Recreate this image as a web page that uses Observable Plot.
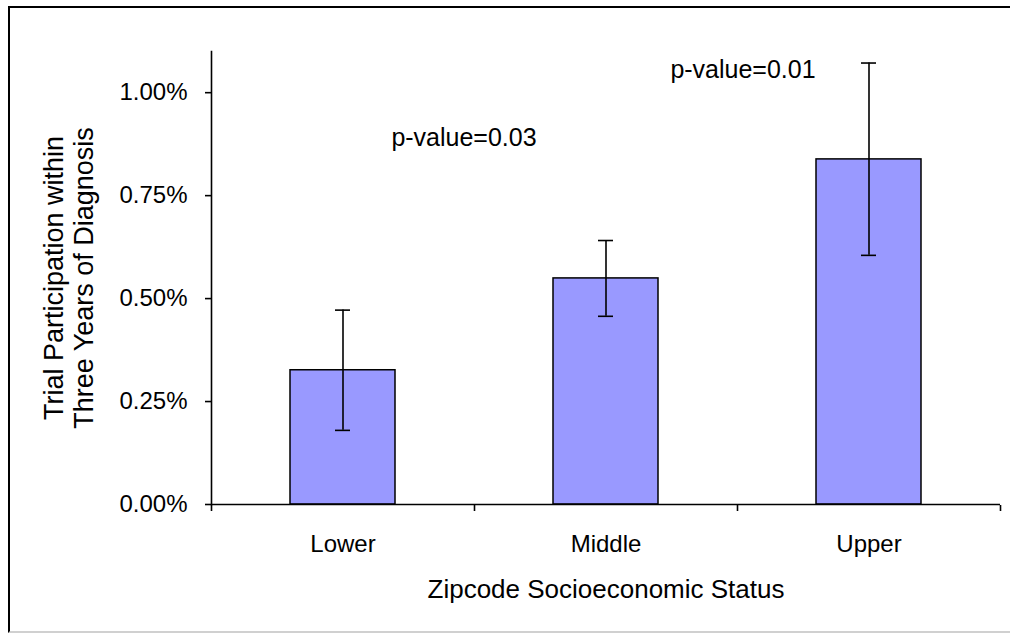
<!DOCTYPE html>
<html>
<head>
<meta charset="utf-8">
<script src="https://cdn.jsdelivr.net/npm/d3@7"></script>
<script src="https://cdn.jsdelivr.net/npm/@observablehq/plot@0.6"></script>
<style>
  html, body { margin: 0; padding: 0; background: #fff; }
  #wrap { position: relative; width: 1010px; height: 633px; overflow: hidden; }
  #frame { position: absolute; left: 8px; top: 6px; width: 1100px; height: 623px;
           border-left: 2px solid #000; border-top: 2px solid #000; border-bottom: 2px solid #d0d0d0; }
  #chart { position: absolute; left: 0; top: 0; }
  svg { font-family: "Liberation Sans", Arial, sans-serif; }
</style>
</head>
<body>
<div id="wrap"><div id="frame"></div><div id="chart"></div></div>
<script>
const categories = ["Lower", "Middle", "Upper"];
const values = [0.326, 0.549, 0.838];
const errLow = [0.180, 0.457, 0.605];
const errHigh = [0.472, 0.641, 1.072];
const yTicks = [0, 0.25, 0.5, 0.75, 1.0];
const annotations = ["p-value=0.03", "p-value=0.01"];
const annotationAt = ["Middle", "Upper"];
const annotationY = [0.891, 1.054];
const xTitle = "Zipcode Socioeconomic Status";
const yTitle = "Trial Participation within\nThree Years of Diagnosis";

const data = categories.map((c, i) => ({cat: c, v: values[i], lo: errLow[i], hi: errHigh[i]}));
const notes = annotations.map((t, i) => ({t, cat: annotationAt[i], y: annotationY[i]}));

const plot = Plot.plot({
  width: 1010,
  height: 633,
  marginLeft: 211,
  marginRight: 10,
  marginTop: 51,
  marginBottom: 129,
  style: {fontFamily: "'Liberation Sans', Arial, sans-serif", background: "transparent", color: "#000"},
  x: {domain: categories, paddingInner: 0.6, paddingOuter: 0.3, align: 0.5, label: null},
  y: {domain: [0, 1.1], label: null},
  marks: [
    Plot.barY(data, {x: "cat", y: "v", fill: "#9999ff", stroke: "#000", strokeWidth: 1.5}),
    Plot.ruleX(data, {x: "cat", y1: "lo", y2: "hi", stroke: "#000", strokeWidth: 1.6}),
    Plot.tickY(data, {x: "cat", y: "lo", stroke: "#000", strokeWidth: 1.6, insetLeft: 45, insetRight: 45}),
    Plot.tickY(data, {x: "cat", y: "hi", stroke: "#000", strokeWidth: 1.6, insetLeft: 45, insetRight: 45}),
    Plot.frame({anchor: "left", stroke: "#000", strokeWidth: 1.6}),
    Plot.ruleY([0], {stroke: "#000", strokeWidth: 1.6}),
    // boundary ticks on x axis
    Plot.ruleX(categories, {x: d => d, dx: -131.5, insetTop: 454, insetBottom: -7, stroke: "#000", strokeWidth: 1.6}),
    Plot.ruleX(categories.slice(-1), {x: d => d, dx: 131.5, insetTop: 454, insetBottom: -7, stroke: "#000", strokeWidth: 1.6}),
    Plot.axisY({ticks: yTicks, tickSize: 6, tickPadding: 18, tickFormat: d => d.toFixed(2) + "%", fontSize: 24, label: null, stroke: "#000", strokeWidth: 1.6}),
    Plot.axisX({tickSize: 0, tickPadding: 30, fontSize: 24, label: null}),
    Plot.text([xTitle], {frameAnchor: "bottom", dy: 93, fontSize: 26, fill: "#000"}),
    Plot.text([yTitle], {frameAnchor: "left", textAnchor: "middle", dx: -143, rotate: -90, fontSize: 27, lineHeight: 1.1, fill: "#000"}),
    Plot.text(notes.slice(0, 1), {x: "cat", y: "y", text: "t", dx: -142, fontSize: 25, fill: "#000"}),
    Plot.text(notes.slice(1), {x: "cat", y: "y", text: "t", dx: -126, fontSize: 25, fill: "#000"})
  ]
});
document.getElementById("chart").appendChild(plot);
</script>
</body>
</html>
